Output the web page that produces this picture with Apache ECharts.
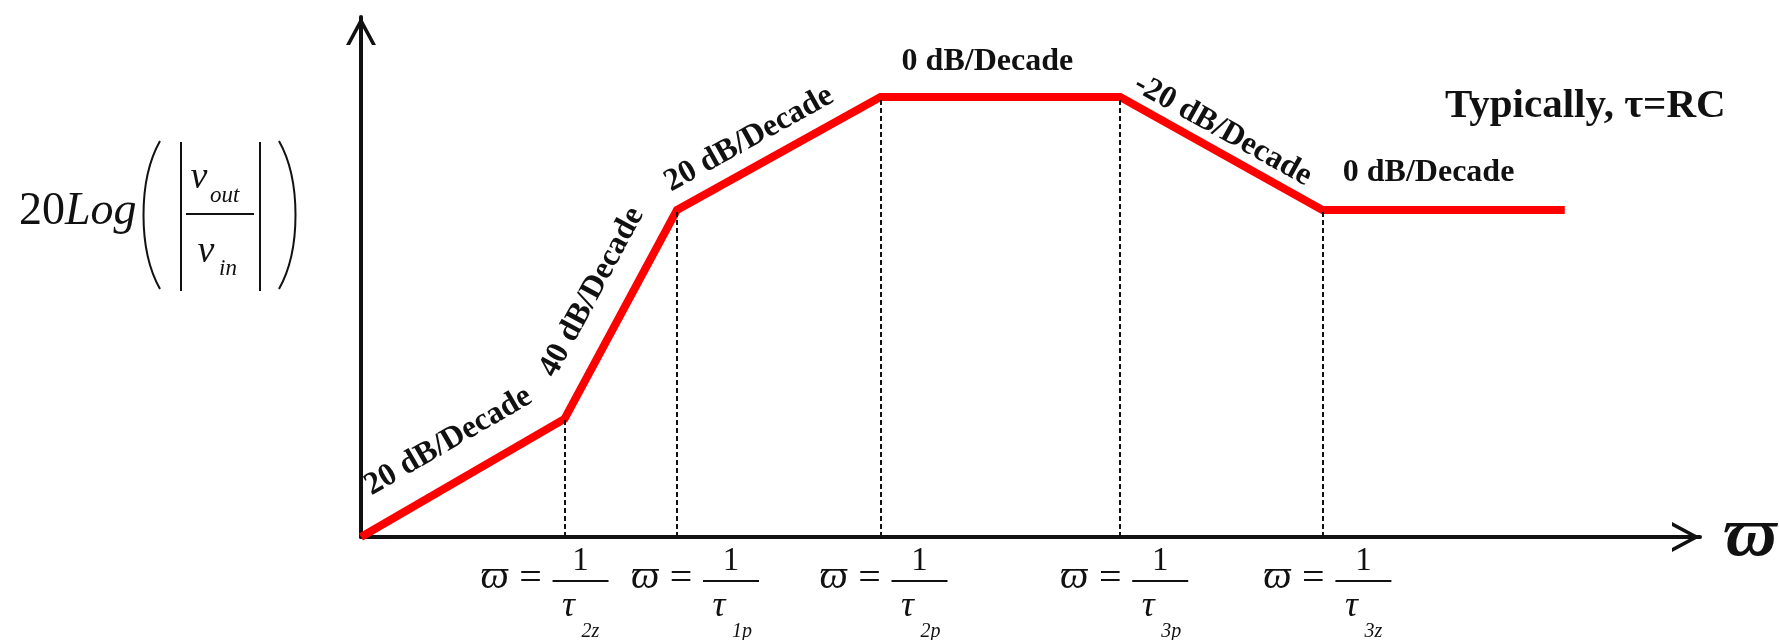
<!DOCTYPE html>
<html>
<head>
<meta charset="utf-8">
<title>Bode magnitude asymptotes</title>
<script src="https://cdn.jsdelivr.net/npm/echarts@6/dist/echarts.min.js"></script>
<style>
    html, body { margin: 0; padding: 0; background: #fff; }
    #bodeChart { width: 1779px; height: 640px; }
</style>
</head>
<body>
<div id="bodeChart"></div>
<script>
// Corner points of the asymptotic magnitude curve (axis units)
const breakX = [0, 15.2, 23.6, 38.8, 56.7, 71.8, 89.9];
const breakY = [0, 22.7, 62.9, 84.6, 84.6, 62.9, 62.9];

// Slope written over each segment
const slopeLabels = ['20 dB/Decade', '40 dB/Decade', '20 dB/Decade', '0 dB/Decade', '-20 dB/Decade', '0 dB/Decade'];

// Subscripts of the time constant under each corner frequency
const tickSubs = ['2z', '1p', '2p', '3p', '3z'];

const axisMax = { x: 100, y: 100 };

// ---- layout only (px) ----
// [distance from the line, shift along the line] for each slope label
const slopeOffset = [[39, 6], [36, 6], [27, -19], [35, -13], [21, -10], [37, -15]];
// how far right of its tick each corner label's fraction sits
const tickShift = [16, 54, 39, 40, 41];

const SERIF = "'Liberation Serif', 'DejaVu Serif', 'Times New Roman', serif";
const INK = '#111';

/**
 * Text element helper for the graphic component
 */
function textEl(x, y, text, font, align, rotation) {
    return {
        type: 'text',
        x: x,
        y: y,
        rotation: rotation || 0,
        silent: true,
        style: {
            text: text,
            font: font,
            fill: INK,
            align: align || 'center',
            verticalAlign: 'middle',
            textAlign: align || 'center',
            textVerticalAlign: 'middle'
        }
    };
}

function lineEl(x1, y1, x2, y2, width) {
    return {
        type: 'line',
        silent: true,
        shape: { x1: x1, y1: y1, x2: x2, y2: y2 },
        style: { stroke: INK, lineWidth: width }
    };
}

class BodeChart {
    constructor(el) {
        this.chart = echarts.init(el);
        this.chart.setOption(this.buildOption());
        this.chart.setOption({ graphic: { elements: this.buildGraphics() } });
    }

    /**
     * Axes, curve and drop lines
     */
    buildOption() {
        // open chevron, tip at the top
        const arrow = 'path://M0,28 L15,0 L30,28 L26,28 L15,7.5 L4,28 Z';
        const axisLine = {
            show: true,
            onZero: false,
            symbol: ['none', arrow],
            symbolSize: [30, 28],
            symbolOffset: [0, -14],
            lineStyle: { color: INK, width: 4 }
        };

        const drops = [];
        for (let i = 1; i < breakX.length - 1; i++) {
            drops.push([{ coord: [breakX[i], 0] }, { coord: [breakX[i], breakY[i]] }]);
        }

        return {
            animation: false,
            backgroundColor: '#fff',
            title: {
                text: 'Typically, τ=RC',
                left: 1440,
                top: 81,
                textStyle: { fontFamily: SERIF, fontWeight: 'bold', fontSize: 41, color: INK }
            },
            // keep the grid fixed; the big axis name must not shrink it
            grid: { left: 361, right: 79, top: 17, bottom: 103, outerBoundsMode: 'none' },
            xAxis: {
                type: 'value',
                min: 0,
                max: axisMax.x,
                name: 'ϖ',
                nameLocation: 'end',
                nameGap: 24,
                nameTextStyle: { fontFamily: SERIF, fontStyle: 'italic', fontWeight: 'bold', fontSize: 70, color: INK },
                axisLine: axisLine,
                axisTick: { show: false },
                axisLabel: { show: false },
                splitLine: { show: false }
            },
            yAxis: {
                type: 'value',
                min: 0,
                max: axisMax.y,
                axisLine: axisLine,
                axisTick: { show: false },
                axisLabel: { show: false },
                splitLine: { show: false }
            },
            series: [
                {
                    name: 'drops',
                    type: 'line',
                    data: [],
                    z: 2,
                    silent: true,
                    markLine: {
                        silent: true,
                        symbol: ['none', 'none'],
                        label: { show: false },
                        lineStyle: { color: INK, width: 2, type: [5, 3] },
                        data: drops
                    }
                },
                {
                    name: 'magnitude',
                    type: 'line',
                    data: breakX.map((x, i) => [x, breakY[i]]),
                    symbol: 'none',
                    clip: false,
                    z: 3,
                    silent: true,
                    lineStyle: { color: '#ff0000', width: 8, join: 'miter', cap: 'butt' }
                }
            ]
        };
    }

    /**
     * Slope labels, corner-frequency labels and the y-axis formula
     */
    buildGraphics() {
        const chart = this.chart;
        const px = (x, y) => chart.convertToPixel({ gridIndex: 0 }, [x, y]);
        const els = [];

        // slope labels along each segment
        slopeLabels.forEach((label, i) => {
            const a = px(breakX[i], breakY[i]);
            const b = px(breakX[i + 1], breakY[i + 1]);
            const len = Math.hypot(b[0] - a[0], b[1] - a[1]);
            const dx = (b[0] - a[0]) / len;
            const dy = (b[1] - a[1]) / len;
            const n = slopeOffset[i][0];
            const s = slopeOffset[i][1];
            const cx = (a[0] + b[0]) / 2 + dy * n + dx * s;
            const cy = (a[1] + b[1]) / 2 - dx * n + dy * s;
            els.push(textEl(cx, cy, label, 'bold 32px ' + SERIF, 'center', Math.atan2(-dy, dx)));
        });

        // corner frequency labels:  ϖ = 1 / τ_sub
        tickSubs.forEach((sub, i) => {
            const t = px(breakX[i + 1], 0);
            const cx = t[0] + tickShift[i];
            const ay = t[1];
            els.push(textEl(cx - 86, ay + 40, 'ϖ', 'italic 40px ' + SERIF));
            els.push(textEl(cx - 50, ay + 42, '=', '40px ' + SERIF));
            els.push(textEl(cx, ay + 24, '1', '33px ' + SERIF));
            els.push(lineEl(cx - 28, ay + 44, cx + 28, ay + 44, 2));
            els.push(textEl(cx - 12, ay + 70, 'τ', 'italic 36px ' + SERIF));
            els.push(textEl(cx + 1, ay + 95, sub, 'italic 20px ' + SERIF, 'left'));
        });

        // y-axis title: 20Log( |v_out / v_in| )
        els.push(textEl(19, 212, '20', '46px ' + SERIF, 'left'));
        els.push(textEl(65, 212, 'Log', 'italic 46px ' + SERIF, 'left'));
        els.push({
            type: 'bezierCurve', silent: true,
            shape: { x1: 160, y1: 141, cpx1: 138, cpy1: 180, cpx2: 138, cpy2: 250, x2: 160, y2: 289 },
            style: { stroke: INK, lineWidth: 2, fill: null }
        });
        els.push({
            type: 'bezierCurve', silent: true,
            shape: { x1: 279, y1: 141, cpx1: 301, cpy1: 180, cpx2: 301, cpy2: 250, x2: 279, y2: 289 },
            style: { stroke: INK, lineWidth: 2, fill: null }
        });
        els.push(lineEl(181, 142, 181, 291, 2));
        els.push(lineEl(260, 142, 260, 291, 2));
        els.push(lineEl(186, 214, 254, 214, 2));
        els.push(textEl(199, 178, 'v', 'italic 38px ' + SERIF));
        els.push(textEl(210, 196, 'out', 'italic 23px ' + SERIF, 'left'));
        els.push(textEl(206, 252, 'v', 'italic 38px ' + SERIF));
        els.push(textEl(219, 269, 'in', 'italic 23px ' + SERIF, 'left'));

        return els;
    }
}

window.bodeChart = new BodeChart(document.getElementById('bodeChart'));
</script>
</body>
</html>
